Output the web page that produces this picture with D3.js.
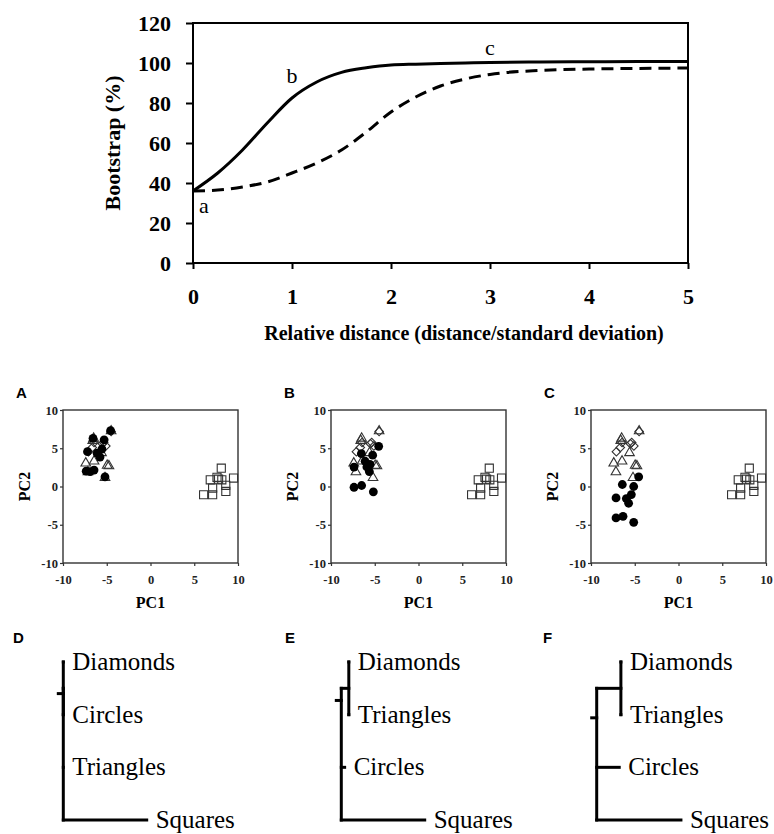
<!DOCTYPE html>
<html>
<head>
<meta charset="utf-8">
<script src="https://cdn.jsdelivr.net/npm/d3@7"></script>
<style>
body{margin:0;background:#fff}
svg{display:block}
</style>
</head>
<body>
<div id="fig"></div>
<script>
// top panel: bootstrap support vs relative distance
var distX  = [0,0.25,0.5,0.75,1,1.25,1.5,1.75,2,2.25,2.5,2.75,3,3.5,4,4.5,5];
var solidY = [36,45,56.5,70,82.5,90.5,95.3,97.6,99,99.4,99.7,100,100.3,100.5,100.6,100.7,100.7];
var dashY  = [36,36.5,38,40.5,45,50,56.5,65.5,75.5,83,88.5,92,94.3,96.3,97,97.3,97.5];
var yTicks = [0,20,40,60,80,100,120];
var xTicks = [0,1,2,3,4,5];
var noteText = ['a','b','c'];
var noteX = [0.11,1.0,3.0];
var noteY = [25,90,104];

// PCA panels A-C (triangles, diamonds, squares are the same in all three)
var panelNames = ['A','B','C'];
var pcTicks = [-10,-5,0,5,10];
var triangles = [[-7.4,3.05],[-6.45,3.3],[-4.95,2.75],[-4.75,2.68],[-7.15,1.9],[-5.2,1.14],[-6.5,6.3],[-5.6,4.4],[-4.5,7.25],[-6.6,6.0]];
var diamonds  = [[-7.1,4.55],[-6.65,5.1],[-5.35,5.75],[-5.1,5.3],[-4.5,7.2],[-6.45,5.75],[-5.5,5.6]];
var squares   = [[8.09,2.4],[6.83,0.87],[7.78,0.96],[8.15,0.87],[9.49,1.1],[7.1,-0.21],[6.07,-1.08],[7.1,-1.08],[8.61,-0.65],[8.6,0.15],[7.6,1.2]];
var circlesA  = [[-4.56,7.3],[-6.57,6.3],[-5.3,6.1],[-7.2,4.55],[-6.1,4.35],[-5.77,3.85],[-5.55,4.9],[-7.35,2.0],[-6.45,2.15],[-6.9,1.95],[-5.2,1.25]];
var circlesB  = [[-7.37,2.54],[-6.53,4.3],[-5.24,4.1],[-4.55,5.25],[-5.9,2.55],[-5.62,1.95],[-5.55,2.9],[-7.37,-0.1],[-6.5,0.13],[-5.16,-0.7],[-6.1,3.3]];
var circlesC  = [[-4.55,1.27],[-5.12,0.0],[-5.39,-1.05],[-6.42,0.26],[-5.96,-1.58],[-5.7,-2.19],[-7.14,-1.49],[-7.14,-4.11],[-6.34,-3.9],[-5.12,-4.68]];

// trees D-F: ((leaf0,leaf1)inner, leaf2, leaf3)
var treeNames = ['D','E','F'];
var treeLeaves = [['Diamonds','Circles','Triangles','Squares'],
                  ['Diamonds','Triangles','Circles','Squares'],
                  ['Diamonds','Triangles','Circles','Squares']];
var treeInner = [0, 0.09, 0.29];
var treeLen = [[0,0,0,1],[0,0,0.04,1],[0,0,0.27,1.01]];
var treeRoot = [0.6, 0.73, 1.06];

var serif = '"Liberation Serif","Times New Roman",serif';
var sans = '"Liberation Sans",Arial,sans-serif';
var plain = function(d){ return String(d); };

var svg = d3.select('#fig').append('svg')
    .attr('width',774).attr('height',834)
    .style('background','#fff');

// ---------- top chart ----------
var x = d3.scaleLinear().domain([0,5]).range([193,688]);
var y = d3.scaleLinear().domain([0,120]).range([263,23]);

var upper = svg.append('g');
upper.append('g')
    .attr('transform','translate(193,0)')
    .call(d3.axisLeft(y).tickValues(yTicks).tickFormat(plain).tickSize(7).tickSizeOuter(0).tickPadding(15))
    .call(function(g){
        g.select('.domain').remove();
        g.selectAll('line').attr('stroke','#000').attr('stroke-width',2);
        g.selectAll('text').attr('font-family',serif).attr('font-weight','bold')
            .attr('font-size','22px').attr('fill','#000');
    });
upper.append('g')
    .attr('transform','translate(0,263)')
    .call(d3.axisBottom(x).tickValues(xTicks).tickFormat(plain).tickSize(6).tickSizeOuter(0).tickPadding(19))
    .call(function(g){
        g.select('.domain').remove();
        g.selectAll('line').attr('stroke','#000').attr('stroke-width',2);
        g.selectAll('text').attr('font-family',serif).attr('font-weight','bold')
            .attr('font-size','22px').attr('fill','#000');
    });
upper.append('rect')
    .attr('x',193).attr('y',23).attr('width',495).attr('height',240)
    .style('fill','none').style('stroke','#000').style('stroke-width',2);

var line = d3.line().curve(d3.curveMonotoneX)
    .x(function(d){return x(d[0]);}).y(function(d){return y(d[1]);});
upper.append('path')
    .attr('d',line(d3.zip(distX,dashY)))
    .style('fill','none').style('stroke','#000').style('stroke-width',3)
    .style('stroke-dasharray','12,7');
upper.append('path')
    .attr('d',line(d3.zip(distX,solidY)))
    .style('fill','none').style('stroke','#000').style('stroke-width',3);

upper.selectAll('.note').data(noteText).enter()
    .append('text')
    .attr('x',function(d,i){return x(noteX[i]);})
    .attr('y',function(d,i){return y(noteY[i]);})
    .attr('text-anchor','middle')
    .attr('font-family',serif).attr('font-size','22px')
    .text(function(d){return d;});

upper.append('text')
    .attr('transform','translate(120,143) rotate(-90)')
    .attr('text-anchor','middle')
    .attr('font-family',serif).attr('font-weight','bold').attr('font-size','22px')
    .text('Bootstrap (%)');
upper.append('text')
    .attr('x',464).attr('y',340)
    .attr('text-anchor','middle')
    .attr('font-family',serif).attr('font-weight','bold').attr('font-size','20px')
    .text('Relative distance (distance/standard deviation)');

// ---------- PCA panels ----------
var panelLeft = [63,331,591];
var circleSets = [circlesA,circlesB,circlesC];
var pw = 175, ph = 153, ptop = 410;

function axisStyle(g){
    g.select('.domain').remove();
    g.selectAll('line').attr('stroke','#333').attr('stroke-width',1.2);
    g.selectAll('text').attr('font-family',serif).attr('font-weight','bold')
        .attr('font-size','12.5px').attr('fill','#222');
}

function scatter(i) {
    var left = panelLeft[i];
    var sx = d3.scaleLinear().domain([-10,10]).range([left,left+pw]);
    var sy = d3.scaleLinear().domain([-10,10]).range([ptop+ph,ptop]);
    var g = svg.append('g');

    g.append('g')
        .attr('transform','translate('+left+',0)')
        .call(d3.axisLeft(sy).tickValues(pcTicks).tickFormat(plain).tickSize(3).tickSizeOuter(0).tickPadding(2))
        .call(axisStyle);
    g.append('g')
        .attr('transform','translate(0,'+(ptop+ph)+')')
        .call(d3.axisBottom(sx).tickValues(pcTicks).tickFormat(plain).tickSize(3).tickSizeOuter(0).tickPadding(9))
        .call(axisStyle);
    g.append('rect')
        .attr('x',left).attr('y',ptop).attr('width',pw).attr('height',ph)
        .style('fill','none').style('stroke','#333').style('stroke-width',1.4);

    var pt = function(d){return 'translate('+sx(d[0])+','+sy(d[1])+')';};
    g.selectAll('.sq').data(squares).enter().append('path')
        .attr('d',d3.symbol(d3.symbolSquare,66)())
        .attr('transform',pt)
        .style('fill','none').style('stroke','#333').style('stroke-width',1.1);
    g.selectAll('.tri').data(triangles).enter().append('path')
        .attr('d',d3.symbol(d3.symbolTriangle,40)())
        .attr('transform',pt)
        .style('fill','none').style('stroke','#333').style('stroke-width',1.1);
    g.selectAll('.dia').data(diamonds).enter().append('path')
        .attr('d',d3.symbol(d3.symbolSquare,36)())
        .attr('transform',function(d){return pt(d)+' rotate(45)';})
        .style('fill','none').style('stroke','#333').style('stroke-width',1.1);
    g.selectAll('.cir').data(circleSets[i]).enter().append('circle')
        .attr('cx',function(d){return sx(d[0]);})
        .attr('cy',function(d){return sy(d[1]);})
        .attr('r',4.4)
        .style('fill','#000');

    g.append('text')
        .attr('transform','translate('+(left-33)+','+(ptop+ph/2)+') rotate(-90)')
        .attr('text-anchor','middle')
        .attr('font-family',serif).attr('font-weight','bold').attr('font-size','16px')
        .text('PC2');
    g.append('text')
        .attr('x',left+pw/2).attr('y',608)
        .attr('text-anchor','middle')
        .attr('font-family',serif).attr('font-weight','bold').attr('font-size','16px')
        .text('PC1');
    g.append('text')
        .attr('x',left-47).attr('y',398)
        .attr('font-family',sans).attr('font-weight','bold').attr('font-size','15px')
        .text(panelNames[i]);
}
for (var i=0;i<3;i++) scatter(i);

// ---------- trees ----------
var treeRootX = [63.3,341.3,596.7];
function tree(i) {
    var tx = d3.scaleLinear().domain([0,1]).range([treeRootX[i],treeRootX[i]+83.4]);
    var ty = d3.scaleLinear().domain([0,3]).range([662,820]);
    var inner = treeInner[i], len = treeLen[i];
    var g = svg.append('g');
    var segs = [
        [[tx(inner),ty(0)],[tx(inner),ty(1)]],
        [[tx(0),ty(0.5)],[tx(inner),ty(0.5)]],
        [[tx(0),ty(0.5)],[tx(0),ty(3)]],
        [[tx(0)-5,ty(treeRoot[i])],[tx(0),ty(treeRoot[i])]]
    ];
    treeLeaves[i].forEach(function(name,k){
        var start = k<2 ? inner : 0;
        segs.push([[tx(start),ty(k)],[tx(start+len[k]),ty(k)]]);
    });
    var pg = d3.line();
    g.selectAll('path').data(segs).enter().append('path')
        .attr('d',function(d){return pg(d);})
        .style('stroke','#000').style('stroke-width',3).style('fill','none')
        .style('stroke-linecap','square');
    g.selectAll('text').data(treeLeaves[i]).enter().append('text')
        .attr('x',function(d,k){return tx((k<2?inner:0)+len[k])+9;})
        .attr('y',function(d,k){return ty(k)+8;})
        .attr('font-family',serif).attr('font-size','25px')
        .text(function(d){return d;});
    g.append('text')
        .attr('x',[13,285,543][i]).attr('y',643)
        .attr('font-family',sans).attr('font-weight','bold').attr('font-size','15px')
        .text(treeNames[i]);
}
for (var j=0;j<3;j++) tree(j);
</script>
</body>
</html>
